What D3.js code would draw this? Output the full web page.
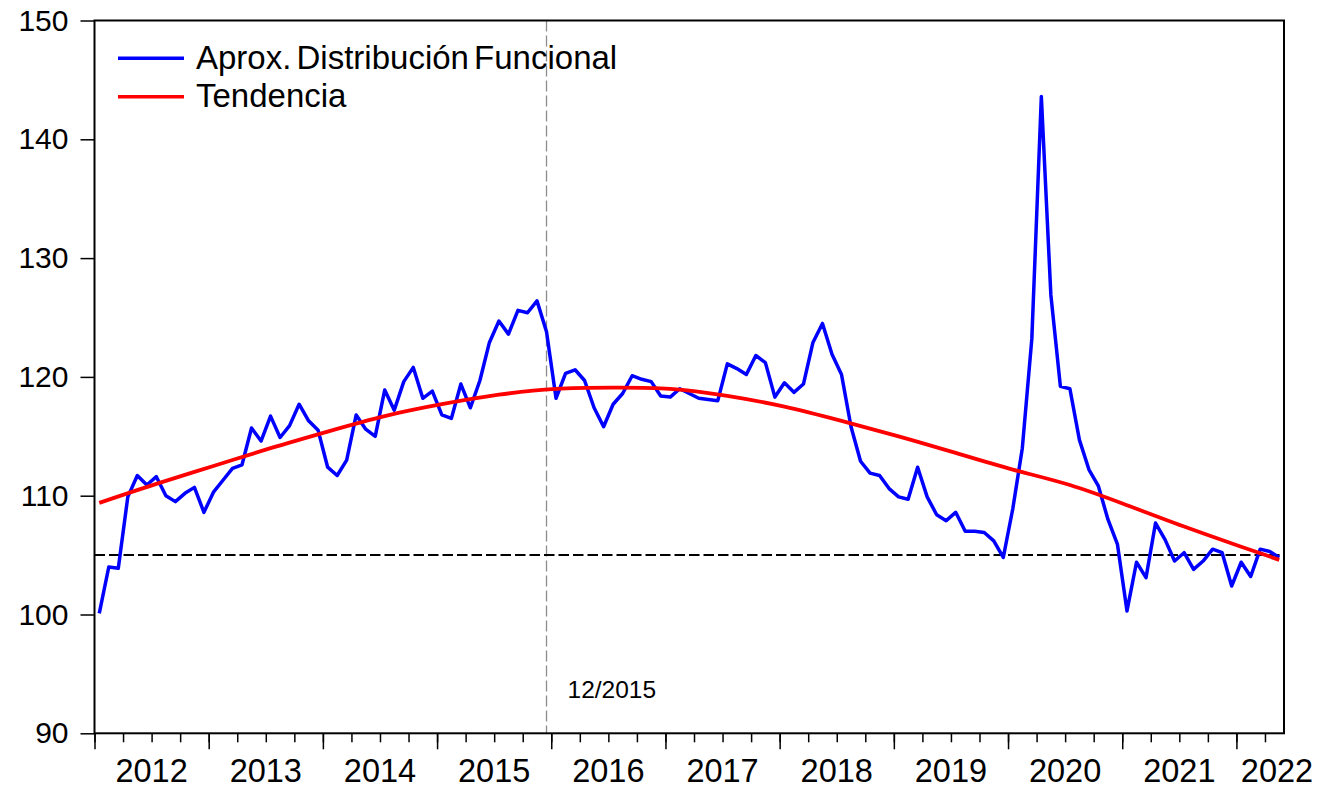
<!DOCTYPE html>
<html>
<head>
<meta charset="utf-8">
<script src="https://cdn.jsdelivr.net/npm/d3@7"></script>
<style>
  body { margin: 0; background: #fff; }
  svg text { font-family: 'Liberation Sans', Arial, sans-serif; fill: #000; }
</style>
</head>
<body>
<svg id="chart" width="1323" height="789"></svg>
<script>
// monthly series, Jan 2012 .. May 2022
const yearLabels = ['2012', '2013', '2014', '2015', '2016', '2017', '2018', '2019', '2020', '2021', '2022'];

const distribucion = [
  100.1, 104.0, 103.9, 109.9, 111.7, 110.9, 111.6, 110.0, 109.5, 110.2, 110.7, 108.6,
  110.3, 111.3, 112.3, 112.6, 115.7, 114.6, 116.7, 114.9, 115.9, 117.7, 116.3, 115.5,
  112.4, 111.7, 113.0, 116.8, 115.6, 115.0, 118.9, 117.2, 119.6, 120.8, 118.2, 118.8,
  116.8, 116.5, 119.4, 117.4, 119.7, 122.9, 124.7, 123.6, 125.6, 125.4, 126.4, 123.8,
  118.2, 120.3, 120.6, 119.7, 117.4, 115.8, 117.7, 118.6, 120.1, 119.8, 119.6, 118.4,
  118.3, 119.0, 118.6, 118.2, 118.1, 118.0, 121.1, 120.7, 120.2, 121.8, 121.2, 118.3,
  119.5, 118.7, 119.4, 122.9, 124.5, 121.9, 120.2, 115.8, 112.9, 111.9, 111.7, 110.6,
  109.9, 109.7, 112.4, 109.9, 108.4, 107.9, 108.6, 107.0, 107.0, 106.9, 106.2, 104.8,
  108.9, 114.0, 123.2, 143.6, 126.9, 119.2, 119.0, 114.7, 112.2, 110.8, 108.0, 105.9,
  100.3, 104.4, 103.1, 107.7, 106.3, 104.5, 105.2, 103.8, 104.5, 105.5, 105.2, 102.4,
  104.4, 103.2, 105.5, 105.3, 104.8
];

// trend read at every 6th month (plus the last one)
const trendMonths = [0, 6, 12, 18, 24, 30, 36, 42, 48, 54, 60, 66, 72, 78, 84, 90, 96, 102, 108, 114, 120, 124];
const tendencia = [109.4, 111.0, 112.5, 114.0, 115.4, 116.7, 117.7, 118.5, 119.0, 119.1, 119.0, 118.4,
  117.5, 116.3, 115.0, 113.6, 112.2, 110.9, 109.2, 107.4, 105.7, 104.6];

const yTicks = [90, 100, 110, 120, 130, 140, 150];
const refLevel = 105;
const markMonth = 47;
const markLabel = '12/2015';
const legendNames = ['Aprox. Distribución Funcional', 'Tendencia'];
const colors = ['#0000ff', '#ff0000'];

const svg = d3.select('#chart');
const plotLeft = 94.5, plotRight = 1284, plotTop = 20.5, plotBottom = 733.3;
const nObs = distribucion.length;

const x = d3.scaleLinear().domain([0, nObs]).range([plotLeft, plotRight]);
const y = d3.scaleLinear().domain([90, 150]).range([plotBottom, plotTop]);

svg.append('rect').attr('width', 1323).attr('height', 789).attr('fill', '#fff');

// y axis
const yAxis = svg.append('g')
  .attr('transform', `translate(${plotLeft},0)`)
  .call(d3.axisLeft(y).tickValues(yTicks).tickSize(14).tickPadding(12));
yAxis.select('.domain').remove();
yAxis.selectAll('line').attr('stroke', '#000').attr('stroke-width', 1.5);
yAxis.selectAll('text').attr('font-size', 30).attr('font-family', null);

// x axis: quarter ticks and year ticks
const xMinor = svg.append('g')
  .attr('transform', `translate(0,${plotBottom})`)
  .call(d3.axisBottom(x).tickValues(d3.range(0, nObs, 3)).tickSize(9).tickFormat(''));
const xMajor = svg.append('g')
  .attr('transform', `translate(0,${plotBottom})`)
  .call(d3.axisBottom(x).tickValues(d3.range(0, nObs, 12)).tickSize(16).tickFormat(''));
[xMinor, xMajor].forEach(g => {
  g.select('.domain').remove();
  g.selectAll('line').attr('stroke', '#000').attr('stroke-width', 1.5);
});

// year labels in the middle of each year, the last one kept inside the picture
svg.append('g').selectAll('text')
  .data(yearLabels)
  .enter().append('text')
  .attr('x', (d, i) => Math.min(x(i * 12 + 6), 1277))
  .attr('y', 782)
  .attr('text-anchor', 'middle')
  .attr('font-size', 32.5)
  .text(d => d);

// reference lines
svg.append('line')
  .attr('x1', x(markMonth + 0.5)).attr('x2', x(markMonth + 0.5))
  .attr('y1', plotTop).attr('y2', plotBottom)
  .attr('stroke', '#8c8c8c').attr('stroke-width', 1.3)
  .attr('stroke-dasharray', '11,4');

svg.append('text')
  .attr('x', x(markMonth + 0.5) + 21)
  .attr('y', 698)
  .attr('font-size', 24.5)
  .text(markLabel);

svg.append('line')
  .attr('x1', plotLeft).attr('x2', plotRight)
  .attr('y1', y(refLevel)).attr('y2', y(refLevel))
  .attr('stroke', '#000').attr('stroke-width', 2)
  .attr('stroke-dasharray', '10.5,4');

// series
const line = d3.line()
  .x((d, i) => x(i + 0.5))
  .y(d => y(d));

svg.append('path')
  .datum(distribucion)
  .attr('d', line)
  .attr('fill', 'none')
  .attr('stroke', colors[0])
  .attr('stroke-width', 3.5)
  .attr('stroke-linejoin', 'round');

const trendLine = d3.line()
  .x((d, i) => x(trendMonths[i] + 0.5))
  .y(d => y(d))
  .curve(d3.curveNatural);

svg.append('path')
  .datum(tendencia)
  .attr('d', trendLine)
  .attr('fill', 'none')
  .attr('stroke', colors[1])
  .attr('stroke-width', 3.8);

// frame
svg.append('rect')
  .attr('x', plotLeft).attr('y', plotTop)
  .attr('width', plotRight - plotLeft).attr('height', plotBottom - plotTop)
  .attr('fill', 'none')
  .attr('stroke', '#000').attr('stroke-width', 2);

// legend
const legend = svg.append('g').selectAll('g')
  .data(legendNames)
  .enter().append('g')
  .attr('transform', (d, i) => `translate(0,${58.3 + i * 38.4})`);

legend.append('line')
  .attr('x1', 118).attr('x2', 184)
  .attr('stroke', (d, i) => colors[i])
  .attr('stroke-width', 3.5);

legend.append('text')
  .attr('x', 196)
  .attr('y', 10.5)
  .attr('font-size', 33)
  .attr('word-spacing', -4)
  .text(d => d);
</script>
</body>
</html>
